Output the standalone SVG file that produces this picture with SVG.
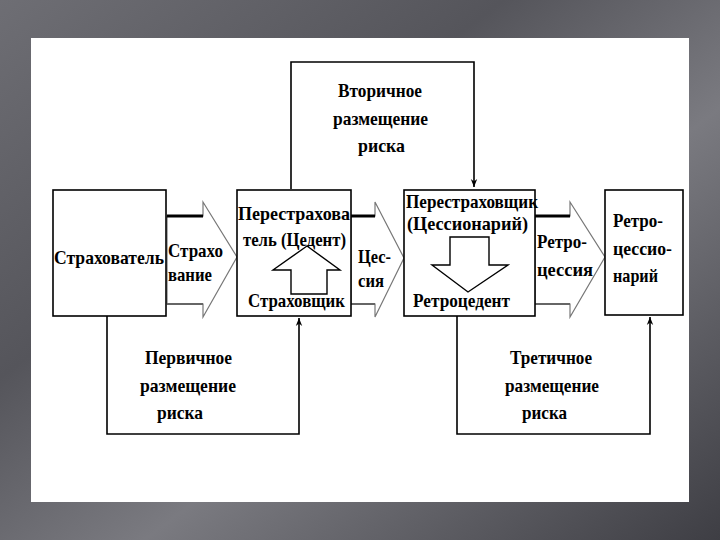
<svg xmlns="http://www.w3.org/2000/svg" width="720" height="540" viewBox="0 0 720 540">
  <defs>
    <linearGradient id="bg" x1="0" y1="0" x2="1" y2="1">
      <stop offset="0" stop-color="#6e6e74"/>
      <stop offset="0.35" stop-color="#55555b"/>
      <stop offset="0.6" stop-color="#7a7a80"/>
      <stop offset="1" stop-color="#3e3e44"/>
    </linearGradient>
    <marker id="ah" viewBox="0 0 10 10" refX="10" refY="5" markerWidth="8" markerHeight="10" markerUnits="userSpaceOnUse" orient="auto">
      <path d="M0,1 L10,5 L0,9 L3,5 Z" fill="#000"/>
    </marker>
    <style>
      .box { fill: #fff; stroke: #000; stroke-width: 1.6; }
      .t { font-family: "Liberation Serif", "Times New Roman", serif; font-size: 19px; font-weight: bold; fill: #000; }
      .blk { fill: #fff; stroke: #777; stroke-width: 1.2; }
      .shtop { stroke: #000; stroke-width: 3; }
      .shbot { stroke: #666; stroke-width: 2; }
      .con { fill: none; stroke: #000; stroke-width: 1.6; }
    </style>
  </defs>

  <rect x="0" y="0" width="720" height="540" fill="url(#bg)"/>
  <rect x="31" y="38" width="658" height="464" fill="#fff"/>

  <g id="connectors">
    <polyline class="con" points="291,189 291,62 474,62 474,187" marker-end="url(#ah)"/>
    <polyline class="con" points="107,316 107,434 299,434 299,318" marker-end="url(#ah)"/>
    <polyline class="con" points="457,316 457,434 650,434 650,317" marker-end="url(#ah)"/>
  </g>

  <g id="arrow-strakhovanie">
    <polygon class="blk" points="167,216 203,216 203,202 237,257 203,317 203,304 167,304"/>
    <line class="shtop" x1="167" y1="216" x2="203" y2="216"/>
    <line class="shbot" x1="167" y1="304" x2="203" y2="304"/>
    <text class="t" x="168" y="257" textLength="55" lengthAdjust="spacingAndGlyphs">Страхо</text>
    <text class="t" x="168" y="281" textLength="44" lengthAdjust="spacingAndGlyphs">вание</text>
  </g>

  <g id="arrow-cessiya">
    <polygon class="blk" points="351,216 375,216 375,202 404,258 375,317 375,304 351,304"/>
    <line class="shtop" x1="351" y1="216" x2="375" y2="216"/>
    <line class="shbot" x1="351" y1="304" x2="375" y2="304"/>
    <text class="t" x="358" y="263" textLength="33" lengthAdjust="spacingAndGlyphs">Цес-</text>
    <text class="t" x="358" y="287" textLength="26" lengthAdjust="spacingAndGlyphs">сия</text>
  </g>

  <g id="arrow-retrocessiya">
    <polygon class="blk" points="535,216 570,216 570,202 605,257 570,317 570,304 535,304"/>
    <line class="shtop" x1="535" y1="216" x2="570" y2="216"/>
    <line class="shbot" x1="535" y1="304" x2="570" y2="304"/>
    <text class="t" x="537" y="248" textLength="50" lengthAdjust="spacingAndGlyphs">Ретро-</text>
    <text class="t" x="537" y="276" textLength="56" lengthAdjust="spacingAndGlyphs">цессия</text>
  </g>

  <g id="node-strakhovatel">
    <rect class="box" x="53" y="190" width="113" height="126"/>
    <text class="t" x="54" y="264" textLength="110" lengthAdjust="spacingAndGlyphs">Страхователь</text>
  </g>

  <g id="node-perestrakhovatel">
    <rect class="box" x="237" y="190" width="114" height="126"/>
    <text class="t" x="238" y="220" textLength="112" lengthAdjust="spacingAndGlyphs">Перестрахова</text>
    <text class="t" x="243" y="246" textLength="103" lengthAdjust="spacingAndGlyphs">тель (Цедент)</text>
    <polygon points="307,246 340,270 327,270 327,294 291,294 291,270 273,270" fill="#fff" stroke="#000" stroke-width="1.4"/>
    <text class="t" x="248" y="307" textLength="97" lengthAdjust="spacingAndGlyphs">Страховщик</text>
  </g>

  <g id="node-perestrakhovshchik">
    <rect class="box" x="404" y="190" width="131" height="126"/>
    <text class="t" x="406" y="208" textLength="132" lengthAdjust="spacingAndGlyphs">Перестраховщик</text>
    <text class="t" x="407" y="230" textLength="121" lengthAdjust="spacingAndGlyphs">(Цессионарий)</text>
    <polygon points="450,237 489,237 489,265 508,265 468,292 432,265 450,265" fill="#fff" stroke="#000" stroke-width="1.4"/>
    <text class="t" x="413" y="307" textLength="97" lengthAdjust="spacingAndGlyphs">Ретроцедент</text>
  </g>

  <g id="node-retrocessionariy">
    <rect class="box" x="605" y="190" width="78" height="125"/>
    <text class="t" x="613" y="227" textLength="50" lengthAdjust="spacingAndGlyphs">Ретро-</text>
    <text class="t" x="613" y="255" textLength="59" lengthAdjust="spacingAndGlyphs">цессио-</text>
    <text class="t" x="613" y="282" textLength="45" lengthAdjust="spacingAndGlyphs">нарий</text>
  </g>

  <g id="label-secondary">
    <text class="t" x="338" y="97" textLength="84" lengthAdjust="spacingAndGlyphs">Вторичное</text>
    <text class="t" x="333" y="125" textLength="95" lengthAdjust="spacingAndGlyphs">размещение</text>
    <text class="t" x="358" y="152" textLength="47" lengthAdjust="spacingAndGlyphs">риска</text>
  </g>
  <g id="label-primary">
    <text class="t" x="145" y="364" textLength="87" lengthAdjust="spacingAndGlyphs">Первичное</text>
    <text class="t" x="140" y="392" textLength="96" lengthAdjust="spacingAndGlyphs">размещение</text>
    <text class="t" x="157" y="419" textLength="46" lengthAdjust="spacingAndGlyphs">риска</text>
  </g>
  <g id="label-tertiary">
    <text class="t" x="510" y="364" textLength="82" lengthAdjust="spacingAndGlyphs">Третичное</text>
    <text class="t" x="505" y="392" textLength="94" lengthAdjust="spacingAndGlyphs">размещение</text>
    <text class="t" x="522" y="419" textLength="45" lengthAdjust="spacingAndGlyphs">риска</text>
  </g>
</svg>
